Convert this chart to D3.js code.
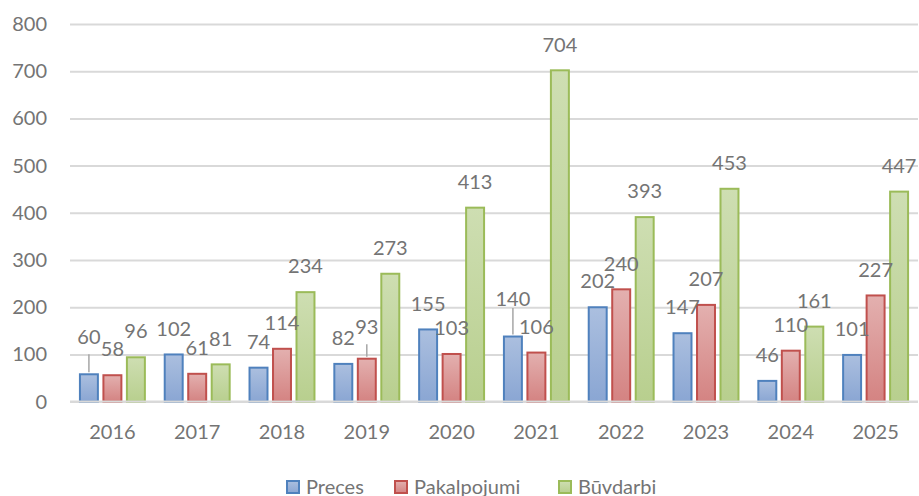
<!DOCTYPE html>
<html>
<head>
<meta charset="utf-8">
<script src="https://d3js.org/d3.v7.min.js"></script>
<style>
  html, body { margin: 0; padding: 0; background: #fff; }
  svg { display: block; }
  text { font-family: Lato, "Open Sans", sans-serif; }
</style>
</head>
<body>
<svg id="chart" width="919" height="496"></svg>
<script>
// ---- data ----
const years = ["2016","2017","2018","2019","2020","2021","2022","2023","2024","2025"];
const seriesNames = ["Preces","Pakalpojumi","Būvdarbi"];
const preces      = [60, 102, 74, 82, 155, 140, 202, 147, 46, 101];
const pakalpojumi = [58, 61, 114, 93, 103, 106, 240, 207, 110, 227];
const buvdarbi    = [96, 81, 234, 273, 413, 704, 393, 453, 161, 447];
const yTicks = [0, 100, 200, 300, 400, 500, 600, 700, 800];

// ---- styling / layout ----
const colors = {
  "Preces":      { stroke: "#4f81bd", top: "#abbfdf", bottom: "#8aa6d3" },
  "Pakalpojumi": { stroke: "#c0504d", top: "#e3b0af", bottom: "#d48382" },
  "Būvdarbi":    { stroke: "#9bbb59", top: "#cedeb2", bottom: "#b8cf8e" }
};
// manually moved data labels (offset of label centre, leader line start below centre)
const labelTweaks = {
  "Preces|2016":      { dy: -11, lead: 17 },
  "Pakalpojumi|2019": { dy: -6,  lead: 17.5 },
  "Preces|2021":      { dy: -11.5, lead: 9 }
};
const legendX = [286, 394, 558];

const values = { "Preces": preces, "Pakalpojumi": pakalpojumi, "Būvdarbi": buvdarbi };
const rows = [];
seriesNames.forEach(s => years.forEach((yr, i) => rows.push({ series: s, year: yr, value: values[s][i] })));

const svg = d3.select("#chart");
const plotLeft = 70, plotRight = 918, plotTop = 24, plotBottom = 401.6;
const textColor = "#747474";
const fontSize = 20;

const x0 = d3.scaleBand().domain(years).range([plotLeft, plotRight]).padding(0);
const x1 = d3.scaleBand().domain(seriesNames).range([0, x0.bandwidth()]).paddingInner(0.15).paddingOuter(0.38);
const y = d3.scaleLinear().domain([0, 800]).range([plotBottom, plotTop]);

// gradients
const defs = svg.append("defs");
seriesNames.forEach((s, i) => {
  const g = defs.append("linearGradient").attr("id", "grad" + i)
    .attr("x1", 0).attr("y1", 0).attr("x2", 0).attr("y2", 1);
  g.append("stop").attr("offset", "0%").attr("stop-color", colors[s].top);
  g.append("stop").attr("offset", "100%").attr("stop-color", colors[s].bottom);
});

// y axis + gridlines
const yAxis = svg.append("g").attr("transform", `translate(${plotLeft},0)`)
  .call(d3.axisLeft(y).tickValues(yTicks).tickSize(-(plotRight - plotLeft)).tickPadding(23).tickFormat(d3.format("d")));
yAxis.select(".domain").remove();
yAxis.selectAll(".tick line").attr("stroke", "#d9d9d9").attr("stroke-width", 2);
yAxis.selectAll(".tick text").attr("fill", textColor).attr("font-size", fontSize)
  .attr("font-family", "Lato, 'Open Sans', sans-serif");

// bars
const bars = svg.append("g");
bars.selectAll("rect").data(rows).join("rect")
  .attr("x", d => x0(d.year) + x1(d.series) + 1)
  .attr("y", d => y(d.value) + 1)
  .attr("width", x1.bandwidth() - 2)
  .attr("height", d => Math.max(0, y(0) - y(d.value) - 1))
  .attr("fill", d => `url(#grad${seriesNames.indexOf(d.series)})`)
  .attr("stroke", d => colors[d.series].stroke)
  .attr("stroke-width", 2);

// baseline redraw
svg.append("line").attr("x1", plotLeft).attr("x2", plotRight).attr("y1", y(0)).attr("y2", y(0))
  .attr("stroke", "#d9d9d9").attr("stroke-width", 2);

// x axis labels
const xAxis = svg.append("g").attr("transform", `translate(0,${plotBottom})`)
  .call(d3.axisBottom(x0).tickSize(0).tickPadding(23.5));
xAxis.select(".domain").remove();
xAxis.selectAll(".tick text").attr("fill", textColor).attr("font-size", fontSize)
  .attr("font-family", "Lato, 'Open Sans', sans-serif").attr("dy", "0.71em");

// data labels
const lbl = svg.append("g");
rows.forEach(d => {
  const cx = x0(d.year) + x1(d.series) + x1.bandwidth() / 2;
  const barTop = y(d.value);
  const tw = labelTweaks[d.series + "|" + d.year];
  const cy = barTop - 25 + (tw ? tw.dy : 0);
  if (tw) {
    lbl.append("line").attr("x1", cx).attr("x2", cx)
      .attr("y1", cy + tw.lead).attr("y2", barTop - 1)
      .attr("stroke", "#a6a6a6").attr("stroke-width", 1.5);
  }
  lbl.append("text").attr("x", cx).attr("y", cy + 7.2)
    .attr("text-anchor", "middle").attr("fill", textColor).attr("font-size", fontSize)
    .text(d.value);
});

// legend
const legend = svg.append("g");
seriesNames.forEach((s, i) => {
  const g = legend.append("g");
  g.append("rect").attr("x", legendX[i] + 1).attr("y", 481).attr("width", 12).attr("height", 12)
    .attr("fill", `url(#grad${i})`).attr("stroke", colors[s].stroke).attr("stroke-width", 2);
  g.append("text").attr("x", legendX[i] + 20).attr("y", 493.5)
    .attr("fill", textColor).attr("font-size", fontSize).text(s);
});
</script>
</body>
</html>
